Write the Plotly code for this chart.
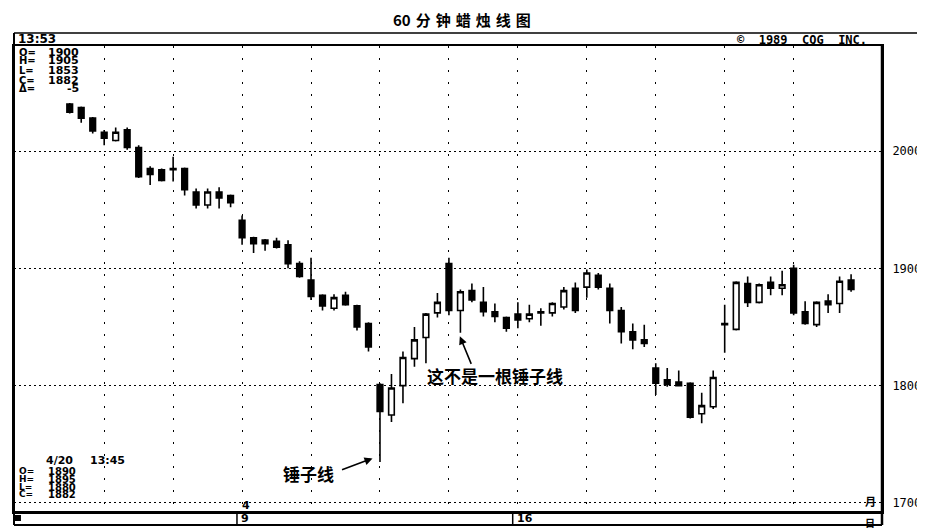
import plotly.graph_objects as go

# ---------------- data ----------------
bar_index = list(range(69))
opens = [2040, 2037, 2028, 2016, 2009, 2018, 2003, 1985, 1984, 1985,
         1985, 1965, 1954, 1965, 1962, 1941, 1926, 1924, 1923, 1920,
         1904, 1890, 1877, 1866, 1877, 1868, 1853, 1801, 1775, 1800,
         1823, 1841, 1862, 1904, 1864, 1881, 1871, 1863, 1858, 1861,
         1857, 1862, 1862, 1867, 1883, 1884, 1894, 1883, 1864, 1846,
         1839, 1815, 1805, 1803, 1802, 1776, 1782, 1852, 1848, 1887,
         1871, 1888, 1883, 1900, 1863, 1852, 1872, 1870, 1890]
highs = [2041, 2038, 2029, 2018, 2020, 2020, 2005, 1987, 1985, 1995,
         1986, 1968, 1968, 1969, 1963, 1945, 1927, 1925, 1926, 1924,
         1906, 1909, 1878, 1878, 1880, 1869, 1854, 1802, 1810, 1829,
         1850, 1862, 1879, 1909, 1882, 1887, 1884, 1870, 1859, 1871,
         1869, 1866, 1871, 1884, 1888, 1899, 1896, 1887, 1867, 1853,
         1852, 1819, 1815, 1813, 1803, 1794, 1813, 1869, 1889, 1893,
         1887, 1893, 1898, 1903, 1872, 1872, 1878, 1893, 1895]
lows = [2032, 2024, 2015, 2005, 2008, 2001, 1977, 1971, 1974, 1974,
        1962, 1951, 1951, 1951, 1952, 1920, 1913, 1915, 1917, 1900,
        1892, 1873, 1864, 1864, 1868, 1847, 1829, 1735, 1769, 1785,
        1816, 1819, 1858, 1860, 1845, 1871, 1859, 1854, 1846, 1849,
        1854, 1851, 1859, 1865, 1862, 1875, 1882, 1853, 1836, 1831,
        1833, 1792, 1799, 1800, 1772, 1768, 1780, 1828, 1847, 1867,
        1870, 1877, 1877, 1860, 1852, 1850, 1862, 1862, 1880]
closes = [2033, 2028, 2017, 2011, 2016, 2003, 1978, 1980, 1975, 1984,
          1967, 1954, 1965, 1960, 1956, 1926, 1921, 1921, 1918, 1904,
          1893, 1876, 1868, 1875, 1869, 1850, 1833, 1778, 1798, 1824,
          1839, 1861, 1871, 1864, 1880, 1873, 1863, 1859, 1849, 1856,
          1861, 1863, 1870, 1881, 1864, 1896, 1884, 1864, 1846, 1839,
          1836, 1802, 1801, 1800, 1773, 1783, 1807, 1853, 1888, 1871,
          1886, 1883, 1886, 1862, 1853, 1871, 1869, 1889, 1882]

price_ticks = [1700, 1800, 1900, 2000]
grid_bars = [3, 9, 15, 21, 27, 33, 39, 45, 51, 57, 63]

title_text = "60\u2004分\u2004钟\u2004蜡\u2004烛\u2004线\u2004图"
time_text = "13:53"
copyright_text = "©\u00a0\u00a01989\u00a0\u00a0CQG\u00a0\u00a0INC."
top_labels = ["O=", "H=", "L=", "C=", "Δ="]
top_values = ["1900", "1905", "1853", "1882", "-5"]
bottom_date = "4/20"
bottom_time = "13:45"
bottom_labels = ["O=", "H=", "L=", "C="]
bottom_values = ["1890", "1895", "1880", "1882"]
hammer_text = "锤子线"
not_hammer_text = "这不是一根锤子线"

# ---------------- layout helpers ----------------
# the page body has an 8px margin, so the figure is shifted by OFF
OFF = 8
W, H = 925 - OFF, 530 - OFF
L, R, T, B = 12 - OFF, 41, 46 - OFF, 18


def px(x):
    return (x - OFF - L) / (W - L - R)


def py(y):
    return (H - B - (y - OFF)) / (H - T - B)


MONO = "DejaVu Sans Mono"
SANS = "DejaVu Sans"
CJK = "Noto Sans CJK SC"

fig = go.Figure()
fig.add_trace(go.Candlestick(
    x=bar_index, open=opens, high=highs, low=lows, close=closes,
    increasing=dict(fillcolor="white", line=dict(color="black", width=1.6)),
    decreasing=dict(fillcolor="black", line=dict(color="black", width=1.6)),
    whiskerwidth=0, hoverinfo="skip", showlegend=False,
))

ann = []


def text(x, y, s, size=12, font=MONO, anchor="left", weight="bold"):
    ann.append(dict(x=px(x), y=py(y), xref="paper", yref="paper", text=s,
                    showarrow=False, xanchor=anchor, yanchor="middle",
                    font=dict(family=font, size=size, color="black", weight=weight)))


text(462, 20, title_text, size=15, font=CJK, anchor="center")
text(14, 39, time_text, size=12, font=SANS)
text(736, 40, copyright_text, size=12)

tops_y = [52, 61, 70, 80, 89]
for lab, val, yy in zip(top_labels, top_values, tops_y):
    text(15, yy, lab, size=10, font=SANS)
    text(79, yy, val, size=11, font=SANS, anchor="right")

text(42, 460, bottom_date, size=11, font=SANS)
text(86, 460, bottom_time, size=11, font=SANS)
bots_y = [471, 479, 487, 494]
for lab, val, yy in zip(bottom_labels, bottom_values, bots_y):
    text(15, yy, lab, size=9, font=SANS)
    text(76, yy, val, size=10, font=SANS, anchor="right")

text(239, 505, "4", size=11, font=SANS)
text(238, 518, "9", size=11, font=SANS)
text(515, 518, "16", size=11, font=SANS)
text(872, 501, "月", size=11, font=CJK, anchor="center")
text(872, 522, "日", size=10, font=CJK, anchor="center")

text(308, 473, hammer_text, size=17, font=CJK, anchor="center")
text(495, 375, not_hammer_text, size=17, font=CJK, anchor="center")

# arrows pointing at the candles (head in data coords, tail as pixel offset)
ann.append(dict(x=26.35, y=1738, xref="x", yref="y", text="", showarrow=True,
                ax=-32, ay=12, arrowhead=2, arrowsize=1, arrowwidth=1.6,
                arrowcolor="black"))
ann.append(dict(x=33.95, y=1842, xref="x", yref="y", text="", showarrow=True,
                ax=12, ay=29, arrowhead=2, arrowsize=1, arrowwidth=1.6,
                arrowcolor="black"))

shapes = []


def line(x0, y0, x1, y1, w=1.5):
    shapes.append(dict(type="line", xref="paper", yref="paper",
                       x0=px(x0), y0=py(y0), x1=px(x1), y1=py(y1),
                       line=dict(color="black", width=w)))


line(12, 33, 925, 33, 1.5)      # top header line
line(12, 33, 12, 525, 2)        # left border
line(884, 46, 884, 525, 2.5)    # right border
line(12, 512, 884, 512, 2)      # bottom of plot
line(12, 525, 884, 525, 2)      # bottom of date row
line(236, 512, 236, 525, 1.5)   # day separator 9
line(513, 512, 513, 525, 1.5)   # day separator 16
shapes.append(dict(type="rect", xref="paper", yref="paper",
                   x0=px(13), y0=py(521), x1=px(19), y1=py(515),
                   fillcolor="black", line=dict(width=0)))

fig.update_layout(
    width=W, height=H,
    margin=dict(l=L, r=R, t=T, b=B),
    paper_bgcolor="white", plot_bgcolor="white",
    showlegend=False,
    annotations=ann, shapes=shapes,
    xaxis=dict(range=[-4.85, 70.69], rangeslider=dict(visible=False),
               tickvals=grid_bars, showticklabels=False, ticks="",
               showgrid=True, gridcolor="black", griddash="2px,10px",
               gridwidth=1, showline=True, mirror=True, linecolor="black",
               linewidth=2, zeroline=False),
    yaxis=dict(range=[1692.3, 2089.5], tickvals=price_ticks, side="right",
               showgrid=True, gridcolor="black", griddash="2px,3px",
               gridwidth=1, showline=True, mirror=True, linecolor="black",
               linewidth=2, zeroline=False, ticks="",
               ticklabelstandoff=6,
               tickfont=dict(family=MONO, size=12, color="black")),
)

fig.write_html("out.html")
